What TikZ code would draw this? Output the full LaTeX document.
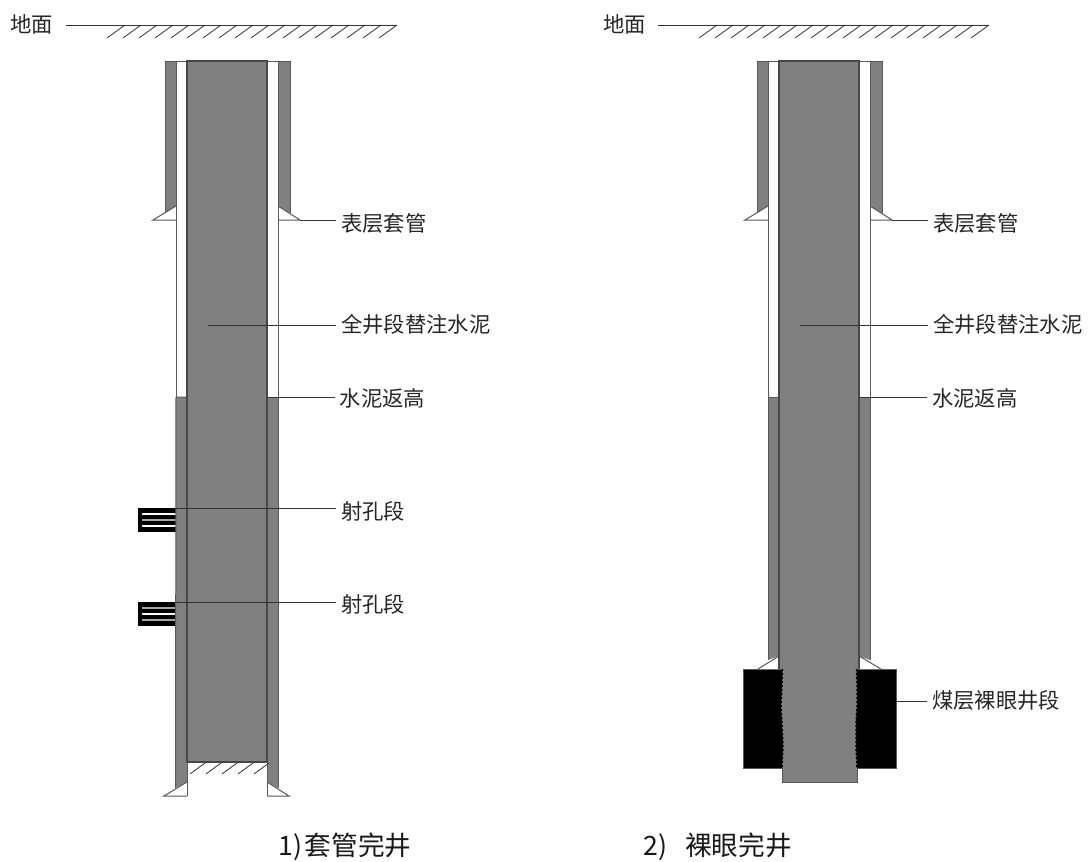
\documentclass[tikz,border=0pt]{standalone}
\usepackage{fontspec}
\setmainfont{Noto Sans CJK SC}
\newcommand{\wellUpper}{%
  \fill[wellgray] (165,61) -- (176,61) -- (176,206) -- (165,212.5) -- cycle;
  \fill[wellgray] (278,61) -- (290,61) -- (290,213) -- (278,206) -- cycle;
  \draw[edge] (176,206) -- (176,397);
  \draw[edge] (278,206) -- (278,397);
  \draw[edge] (165,212.5) -- (165,61) -- (290,61) -- (290,213);
  \draw[edge] (176,61) -- (176,206);
  \draw[edge] (278,61) -- (278,206);
  \draw[edge] (176,206) -- (153,220) -- (176,220);
  \draw[edge] (278,206) -- (300,220) -- (278,220);
  \draw[thinline] (66,25) -- (397,25);
  \foreach \k in {0,...,17}{\draw[hatchline] ({107+\k*16},38) -- ({125+\k*16},25);}
}
\tikzset{
  edge/.style={draw=black!65,line width=0.75pt},
  inner edge/.style={draw=black!72,line width=0.85pt},
  thinline/.style={draw=black!80,line width=0.75pt},
  leader/.style={draw=black!80,line width=0.75pt,shorten >=3.75pt},
  hatchline/.style={draw=black!80,line width=0.6pt},
  wellgray/.style={fill=black!50},
  lab/.style={anchor=west,inner sep=0pt,font=\fontsize{16}{18}\selectfont,text=black!85},
  captext/.style={anchor=west,inner sep=0pt,font=\fontsize{20}{22}\selectfont,text=black!90},
  perf/.style={draw=white,line width=0.9pt},
  perfg/.style={draw=black!35,line width=0.9pt},
  jag/.style={draw=black,line width=1.1pt,dash pattern=on 1.6pt off 1.4pt}
}
\begin{document}
\begin{tikzpicture}[x=0.75pt,y=-0.75pt]
\useasboundingbox (0,0) rectangle (1089,861);
\fill[white] (0,0) rectangle (1089,861);

% ---------- left well ----------
\wellUpper
\fill[black] (138,508) rectangle (176,532);
\fill[black] (138,602) rectangle (176,626);
\foreach \y in {514,526}{\draw[perf] (142,\y) -- (176,\y);}
\draw[perfg] (142,520) -- (176,520);
\draw[perf] (142,614) -- (176,614);
\foreach \y in {608,620}{\draw[perfg] (142,\y) -- (176,\y);}
\fill[wellgray] (176,397) -- (187,397) -- (187,782) -- (175.5,788) -- cycle;
\fill[wellgray] (267,397) -- (278,397) -- (278,788) -- (267,782) -- cycle;
\draw[edge] (187,397) -- (176,397) -- (175.5,788);
\draw[edge] (267,397) -- (278,397) -- (278,788);
\filldraw[wellgray,inner edge] (187,61) rectangle (267,762);
\draw[edge] (187,762) -- (187,796);
\draw[edge] (267,762) -- (267,796);
\draw[edge] (187,782) -- (164,796) -- (187,796);
\draw[edge] (267,782) -- (289,796) -- (267,796);
\foreach \k in {0,...,4}{\draw[hatchline] ({190+\k*16},774) -- ({205+\k*16},763);}
\node[lab] (groundL) at (10,24) {地面};
\node[lab] (surfL) at (341,223.5) {表层套管};
\node[lab] (fullL) at (341,324) {全井段替注水泥};
\node[lab] (topL) at (339.5,398) {水泥返高};
\node[lab] (perfA) at (341,511) {射孔段};
\node[lab] (perfB) at (341,604) {射孔段};
\node[captext] (capL) at (278,847) {1)\kern2pt 套管完井};
\coordinate (surfLs) at (300,220);
\coordinate (fullLs) at (208,325);
\coordinate (topLs) at (267,397.5);
\coordinate (perfAs) at (176,508.5);
\coordinate (perfBs) at (176,602.5);
\draw[leader] (surfLs) -- (surfLs -| surfL.west);
\draw[leader] (fullLs) -- (fullLs -| fullL.west);
\draw[leader] (topLs) -- (topLs -| topL.west);
\draw[leader] (perfAs) -- (perfAs -| perfA.west);
\draw[leader] (perfBs) -- (perfBs -| perfB.west);

% ---------- right well ----------
\begin{scope}[shift={(592,0)}]
\wellUpper
\fill[wellgray] (176,397) -- (187,397) -- (187,656) -- (176,660) -- cycle;
\fill[wellgray] (267,397) -- (278,397) -- (278,660) -- (267,656) -- cycle;
\draw[edge] (187,397) -- (176,397) -- (176,660);
\draw[edge] (267,397) -- (278,397) -- (278,660);
\filldraw[edge,fill=black] (151,669) rectangle (304,768);
\fill[white] (187,656) -- (166,669) -- (187,669) -- cycle;
\fill[white] (267,656) -- (289,669) -- (267,669) -- cycle;
\draw[edge] (187,656) -- (166,669);
\draw[edge] (267,656) -- (289,669);
% centre column: filled whole, stroked only on its straight parts
\fill[wellgray] (187,61) -- (267,61) -- (267,669) -- (264.5,669)
  -- (265,686) -- (265,706) -- (264,723) -- (264,746) -- (265,766) -- (265,782)
  -- (190,782) -- (190,766) -- (191,746) -- (190,723) -- (189,706) -- (190,686)
  -- (190.5,669) -- (187,669) -- cycle;
\draw[inner edge] (187,669) -- (187,61) -- (267,61) -- (267,669);
\draw[edge] (190,768) -- (190,782) -- (265,782) -- (265,768);
\draw[jag] (264.5,669) -- (265,686) -- (265,706) -- (264,723) -- (264,746) -- (265,768);
\draw[jag] (190.5,669) -- (190,686) -- (189,706) -- (190,723) -- (191,746) -- (190,768);
\end{scope}
\node[lab] (groundR) at (603,24) {地面};
\node[lab] (surfR) at (933,223.5) {表层套管};
\node[lab] (fullR) at (933,324) {全井段替注水泥};
\node[lab] (topR) at (932,398) {水泥返高};
\node[lab] (coalR) at (932,700) {煤层裸眼井段};
\node[captext] (capR) at (643,847) {2)\kern13.5pt 裸眼完井};
\coordinate (surfRs) at (892,220);
\coordinate (fullRs) at (800,325);
\coordinate (topRs) at (859,397.5);
\coordinate (coalRs) at (896,701);
\draw[leader] (surfRs) -- (surfRs -| surfR.west);
\draw[leader] (fullRs) -- (fullRs -| fullR.west);
\draw[leader] (topRs) -- (topRs -| topR.west);
\draw[leader] (coalRs) -- (coalRs -| coalR.west);
\end{tikzpicture}
\end{document}
